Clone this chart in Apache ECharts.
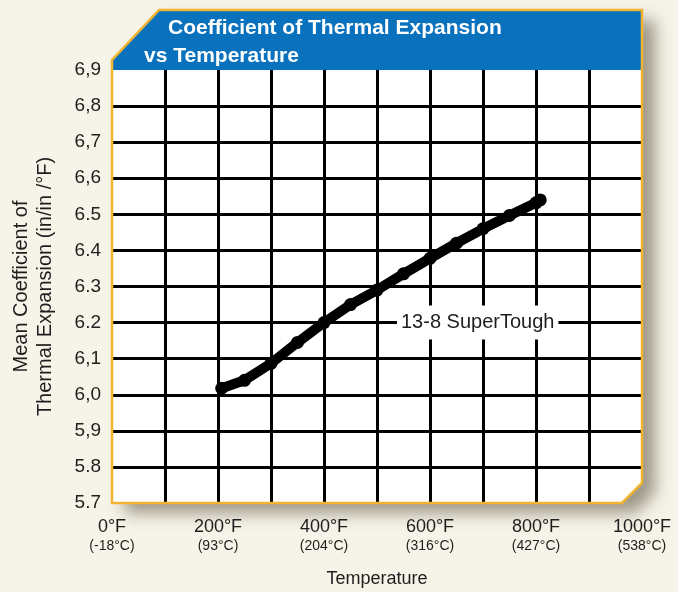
<!DOCTYPE html>
<html><head><meta charset="utf-8">
<script src="https://cdn.jsdelivr.net/npm/echarts@6/dist/echarts.min.js"></script>
<style>html,body{margin:0;padding:0;background:#f6f3e8;} #c{width:678px;height:592px;}</style>
</head><body><div id="c"></div>
<script>
// ---- data ----
const temperaturesF = [207, 250, 300, 350, 400, 450, 500, 550, 600, 650, 700, 750, 800, 808];
const cte = [6.018, 6.04, 6.087, 6.145, 6.2, 6.25, 6.29, 6.335, 6.378, 6.42, 6.46, 6.497, 6.532, 6.54];
const yTickLabels = ['5.7','5.8','5,9','6,0','6,1','6.2','6.3','6.4','6.5','6,6','6,7','6,8','6,9'];
const xTickF = ['0°F','200°F','400°F','600°F','800°F','1000°F'];
const xTickC = ['(-18°C)','(93°C)','(204°C)','(316°C)','(427°C)','(538°C)'];
const seriesName = '13-8 SuperTough';
const titleLines = ['Coefficient of Thermal Expansion', 'vs Temperature'];
const yAxisTitle = 'Mean Coefficient of\nThermal Expansion (in/in /°F)';
const xAxisTitle = 'Temperature';

// ---- layout ----
const L = 112, R = 642, T = 70, B = 503, HT = 10;
const FONT = '"Liberation Sans", Arial, Helvetica, sans-serif';
const BLUE = '#0a72bd', GOLD = '#f2b430', INK = '#1e1e1e';

const chart = echarts.init(document.getElementById('c'), null, {renderer: 'canvas'});
const outline = [[159, HT], [R, HT], [R, B - 20], [R - 20, B], [L, B], [L, HT + 50]];

chart.setOption({
  backgroundColor: '#f6f3e8',
  animation: false,
  textStyle: {fontFamily: FONT},
  title: [
    {text: titleLines[0], left: 163, top: 13, textStyle: {color: '#fff', fontSize: 21, fontWeight: 'bold', fontFamily: FONT}, z: 20},
    {text: titleLines[1], left: 139, top: 41, textStyle: {color: '#fff', fontSize: 21, fontWeight: 'bold', fontFamily: FONT}, z: 20}
  ],
  graphic: [
    {type: 'polygon', z: -10, shape: {points: outline},
     style: {fill: '#ffffff', shadowBlur: 16, shadowOffsetX: 13, shadowOffsetY: 10, shadowColor: 'rgba(70,60,40,0.5)'}},
    {type: 'polygon', z: 10, shape: {points: [[159, HT], [R, HT], [R, T], [L, T], [L, HT + 50]]},
     style: {fill: BLUE}},
    {type: 'polygon', z: 11, shape: {points: outline},
     style: {fill: 'none', stroke: GOLD, lineWidth: 2.5}}
  ],
  grid: {left: L, right: 678 - R, top: T, bottom: 592 - B, containLabel: false, outerBoundsMode: 'none'},
  xAxis: {
    type: 'value', min: 0, max: 1000, interval: 100,
    axisLine: {show: false}, axisTick: {show: false},
    splitLine: {show: true, showMinLine: false, showMaxLine: false, lineStyle: {color: '#000', width: 3}},
    axisLabel: {
      margin: 14, color: INK,
      formatter: v => (v % 200 === 0) ? '{a|' + xTickF[v / 200] + '}\n{b|' + xTickC[v / 200] + '}' : '',
      rich: {a: {fontSize: 18, fontFamily: FONT, color: INK, lineHeight: 20},
             b: {fontSize: 14, fontFamily: FONT, color: INK, lineHeight: 19}}
    },
    name: xAxisTitle, nameLocation: 'middle', nameGap: 67,
    nameTextStyle: {fontSize: 18, color: INK, fontFamily: FONT}
  },
  yAxis: {
    type: 'value', min: 5.7, max: 6.9, interval: 0.1,
    axisLine: {show: false}, axisTick: {show: false},
    splitLine: {show: true, showMinLine: false, showMaxLine: false, lineStyle: {color: '#000', width: 3}},
    axisLabel: {margin: 11, fontSize: 19, color: INK, fontFamily: FONT,
      formatter: v => yTickLabels[Math.round((v - 5.7) * 10)]},
    name: yAxisTitle, nameLocation: 'middle', nameGap: 55, nameRotate: 90,
    nameTextStyle: {fontSize: 20, color: INK, fontFamily: FONT, lineHeight: 24, align: 'center'}
  },
  series: [{
    name: seriesName, type: 'line',
    data: temperaturesF.map((t, i) => [t, cte[i]]),
    lineStyle: {color: '#000', width: 10, cap: 'round', join: 'round'},
    itemStyle: {color: '#000'},
    symbol: 'circle', symbolSize: 13, showSymbol: true,
    z: 5,
    markPoint: {
      symbol: 'rect', symbolSize: 0,
      data: [{coord: [690, 6.2]}],
      label: {show: true, position: 'inside', formatter: seriesName,
        backgroundColor: '#fff', padding: [7, 4], fontSize: 20, color: INK, fontFamily: FONT}
    }
  }]
});
</script></body></html>
